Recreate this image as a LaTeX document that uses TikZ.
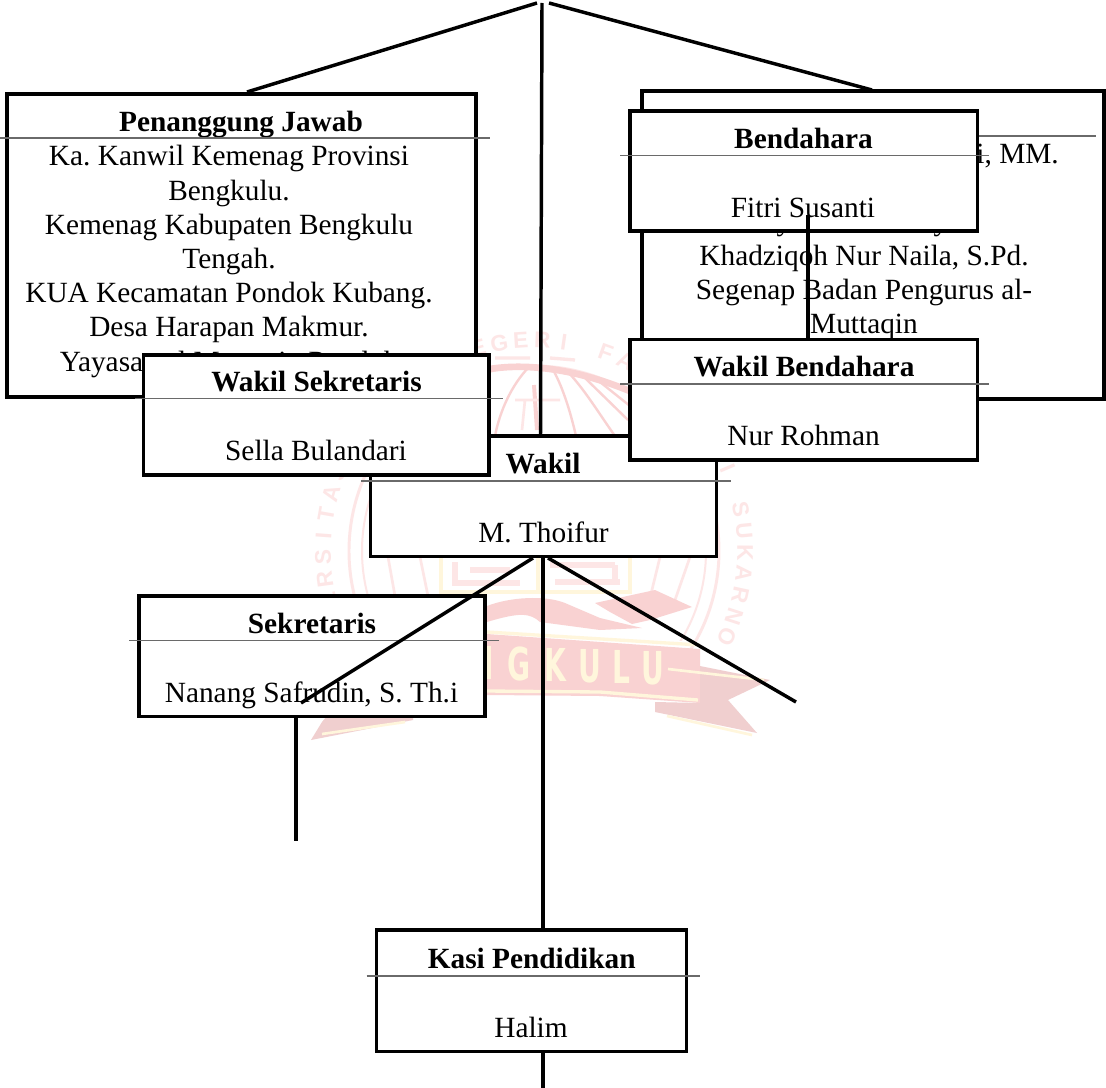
\documentclass[tikz,border=0pt]{standalone}
\usepackage{fontspec}
\setmainfont{Liberation Serif}
\newfontfamily\wmfont{Liberation Sans}
\newfontfamily\wmbold{DejaVu Sans}
\frenchspacing
\definecolor{wmpink}{HTML}{F9D2D2}
\definecolor{wmdark}{HTML}{F0CFCF}
\definecolor{wmpale}{HTML}{FDE6E6}
\definecolor{wmcream}{HTML}{FFF6DC}
\definecolor{rulegray}{HTML}{6A6A6A}
\newcommand\orgbox[5]{%
  \pgfmathsetlengthmacro\bxw{(#4-#2)*0.75pt}%
  \pgfmathsetlengthmacro\bxh{(#5-#3)*0.75pt}%
  \node[boxst,minimum width=\bxw,minimum height=\bxh] (#1) at ({(#2+#4)/2},{(#3+#5)/2}) {};}
\tikzset{
  boxst/.style={draw=black,fill=white,line width=2.6pt,inner sep=0pt,outer sep=0pt},
  body/.style={anchor=base,inner sep=0pt,font=\fontsize{22}{26}\selectfont},
  head/.style={anchor=base,inner sep=0pt,font=\fontsize{22}{26}\selectfont\bfseries},
  rulest/.style={draw=rulegray,line width=1.1pt},
  conn/.style={draw=black,line width=2.6pt},
  wmring/.style={draw=wmpale,line width=2.2pt},
  wmline/.style={draw=wmpink,line width=1.8pt},
  wmchar/.style={text=wmpale,inner sep=0pt,font=\wmfont\fontsize{17}{17}\selectfont\bfseries},
  wmband/.style={text=wmcream,inner sep=0pt,font=\wmbold\fontsize{34}{34}\selectfont\bfseries}
}
\begin{document}
\begin{tikzpicture}[x=0.75pt,y=-0.75pt]
\useasboundingbox (0,0) rectangle (1106,1088);
\fill[white] (0,0) rectangle (1106,1088);

% ---------- watermark seal
\foreach \c [count=\i from 0] in {U,N,I,V,E,R,S,I,T,A,S,,I,S,L,A,M,,N,E,G,E,R,I,,F,A,T,M,A,W,A,T,I,,S,U,K,A,R,N,O}{
  \pgfmathsetmacro\wa{217-5.875*\i}
  \node[wmchar,rotate=\wa-90] (wm\i) at ({534+211*cos(\wa)},{551-211*sin(\wa)}) {\c};
}
\begin{scope}
  \clip (300,300) rectangle (760,650);
  \draw[wmring] (534,551) circle (185);
\end{scope}
\begin{scope}
  \clip (300,440) rectangle (760,640);
  \draw[wmring,line width=1.5pt] (534,551) circle (172);
\end{scope}
\draw[wmpink,line width=5pt] (490,369) .. controls (520,364) and (570,366) .. (632,392);
\draw[wmpale,line width=2.5pt] (495,358) -- (530,358) (550,358) -- (575,360);
\draw[wmline] (528,368) .. controls (512,385) and (500,410) .. (495,436);
\draw[wmline] (552,368) .. controls (562,385) and (570,410) .. (576,436);
\draw[wmline] (568,372) .. controls (585,390) and (600,415) .. (615,436);
\draw[wmline] (585,378) -- (628,420);
\draw[wmline] (600,382) -- (630,406);
\draw[wmpink,line width=3pt] (534,385) -- (537,430);
\draw[wmpale,line width=2pt] (515,400) -- (560,400) (525,400) -- (522,430);
% globe lines beneath the Wakil box
\draw[wmpale,line width=2pt] (388,557) -- (395,596) (420,557) -- (428,596) (660,557) -- (650,598) (690,557) -- (675,600);
% kufic panel
\draw[wmcream,line width=3pt] (441,557) -- (441,592) -- (630,592) -- (630,557);
\draw[wmpale,line width=5pt] (455,562) -- (455,583) -- (520,583) (470,570) -- (510,570) (550,565) -- (615,565) (555,582) -- (620,582) (615,565) -- (615,582);
\draw[wmcream,line width=3pt] (538,557) -- (538,590);
% crest
\fill[wmpink] (487,606) .. controls (510,597) and (545,595) .. (565,603) -- (600,618) -- (642,628) -- (600,630) -- (540,622) .. controls (530,613) and (520,612) .. (487,622) -- cycle;
\fill[wmpink] (595,603) -- (655,590) -- (692,607) -- (650,620) -- (632,624) -- (610,612) -- cycle;
% ribbon
\fill[wmpink] (368,630) -- (487,634) -- (700,649) -- (700,703) -- (600,696) -- (487,695) -- (368,700) -- cycle;
\draw[wmcream,line width=2.5pt] (487,632) -- (700,645);
\draw[wmcream,line width=2.5pt] (487,691) -- (600,692) -- (698,700);
\fill[wmdark] (700,666) -- (770,680) -- (728,700) -- (757,733) -- (655,712) -- (655,702) -- (700,703) -- cycle;
\draw[wmcream,line width=2pt] (668,669) -- (764,680) (667,716) -- (752,735);
\fill[wmdark] (368,668) -- (300,680) -- (340,700) -- (322,722) -- (311,740) -- (413,720) -- (413,705) -- (368,700) -- cycle;
\draw[wmcream,line width=2pt] (322,734) -- (405,722);
\foreach \c/\px/\py [count=\i] in {B/384/663,E/414/664,N/482/663,G/519/664,K/555/665,U/590/666,L/621/667,U/653/668}{
  \node[wmband] (band\i) at (\px,\py) {\scalebox{0.62}[1]{\c}};
}

% ---------- upper connectors
\coordinate (apex) at (542,3);
\coordinate (apexL) at (537,3);
\coordinate (apexR) at (549,3);
\coordinate (pjTop) at (247,92);
\coordinate (rbTop) at (872,90);
\coordinate (wkTop) at (540.5,436);
\draw[conn] (pjTop) -- (apexL);
\draw[conn] (apex) -- (wkTop);
\draw[conn] (apexR) -- (rbTop);

% ---------- Penanggung Jawab
\orgbox{pj}{7}{94}{476}{397}
\node[body] (pj1) at (229,165.7) {Ka. Kanwil Kemenag Provinsi};
\node[body] (pj2) at (229,200) {Bengkulu.};
\node[body] (pj3) at (229,234) {Kemenag Kabupaten Bengkulu};
\node[body] (pj4) at (229,268.5) {Tengah.};
\node[body] (pj5) at (229,302.7) {KUA Kecamatan Pondok Kubang.};
\node[body] (pj6) at (229,336.7) {Desa Harapan Makmur.};
\node[body] (pj7) at (229,371) {Yayasan al Muttaqin Pondok};
\node[head] (pjh) at (241,131.7) {Penanggung Jawab};
\draw[rulest] (0,138) -- (490,138);

% ---------- box behind Bendahara
\orgbox{rb}{642}{91}{1104}{399}
\node[body,anchor=base east] (rb0) at (1059,163.3) {i, MM.};
\node[body] (rby1) at (784,230.5) {y};
\node[body] (rby2) at (941,230.5) {y};
\node[body] (rb1) at (864,265) {Khadziqoh Nur Naila, S.Pd.};
\node[body] (rb2) at (864,299.3) {Segenap Badan Pengurus al-};
\node[body] (rb3) at (864,333.5) {Muttaqin};
\draw[rulest] (632,136) -- (1096,136);

% ---------- Wakil
\orgbox{wk}{370.7}{436}{716.7}{556.7}
\node[head] (wkh) at (543,473.3) {Wakil};
\node[body] (wkb) at (543.5,542.7) {M. Thoifur};
\draw[rulest] (361,481) -- (731,481);

% ---------- Wakil Sekretaris
\orgbox{ws}{143.5}{355}{489}{475}
\node[head] (wsh) at (316.5,391.7) {Wakil Sekretaris};
\node[body] (wsb) at (316,460) {Sella Bulandari};
\draw[rulest] (135,398.5) -- (503,398.5);

% ---------- Bendahara
\orgbox{bd}{630}{111}{977.5}{231}
\node[head] (bdh) at (803.5,148.3) {Bendahara};
\node[body] (bdb) at (803,217.3) {Fitri Susanti};
\draw[rulest] (620,155.6) -- (989,155.6);

% ---------- Wakil Bendahara
\orgbox{wb}{630}{339.5}{977.5}{460}
\node[head] (wbh) at (804,376.7) {Wakil Bendahara};
\node[body] (wbb) at (803.5,445) {Nur Rohman};
\draw[rulest] (620,384) -- (989,384);

\coordinate (bdDrop) at (808,215);
\coordinate (wbRise) at (808,340);
\draw[conn] (bdDrop) -- (wbRise);

% ---------- Sekretaris
\orgbox{sk}{139}{596}{485}{716.7}
\node[head] (skh) at (312,633) {Sekretaris};
\node[body] (skb) at (311.5,702.7) {Nanang Safrudin, S. Th.i};
\draw[rulest] (129,640.7) -- (498.6,640.7);

% ---------- lower connectors
\coordinate (wkL) at (533,558);
\coordinate (wkM) at (543,558);
\coordinate (wkR) at (548,558);
\coordinate (skIn) at (301,703);
\coordinate (freeR) at (796,702);
\coordinate (skBot) at (296,717);
\coordinate (freeS) at (296,841);
\coordinate (ksTop) at (543,930);
\coordinate (ksBot) at (543,1052);
\coordinate (freeK) at (543,1088);
\draw[conn] (wkL) -- (skIn);
\draw[conn] (wkR) -- (freeR);
\draw[conn] (wkM) -- (ksTop);
\draw[conn] (skBot) -- (freeS);
\draw[conn] (ksBot) -- (freeK);

% ---------- Kasi Pendidikan
\orgbox{ks}{376.7}{930}{686.7}{1051.7}
\node[head] (ksh) at (531.7,968) {Kasi Pendidikan};
\node[body] (ksb) at (531,1037) {Halim};
\draw[rulest] (366.7,976) -- (700,976);
\end{tikzpicture}
\end{document}
